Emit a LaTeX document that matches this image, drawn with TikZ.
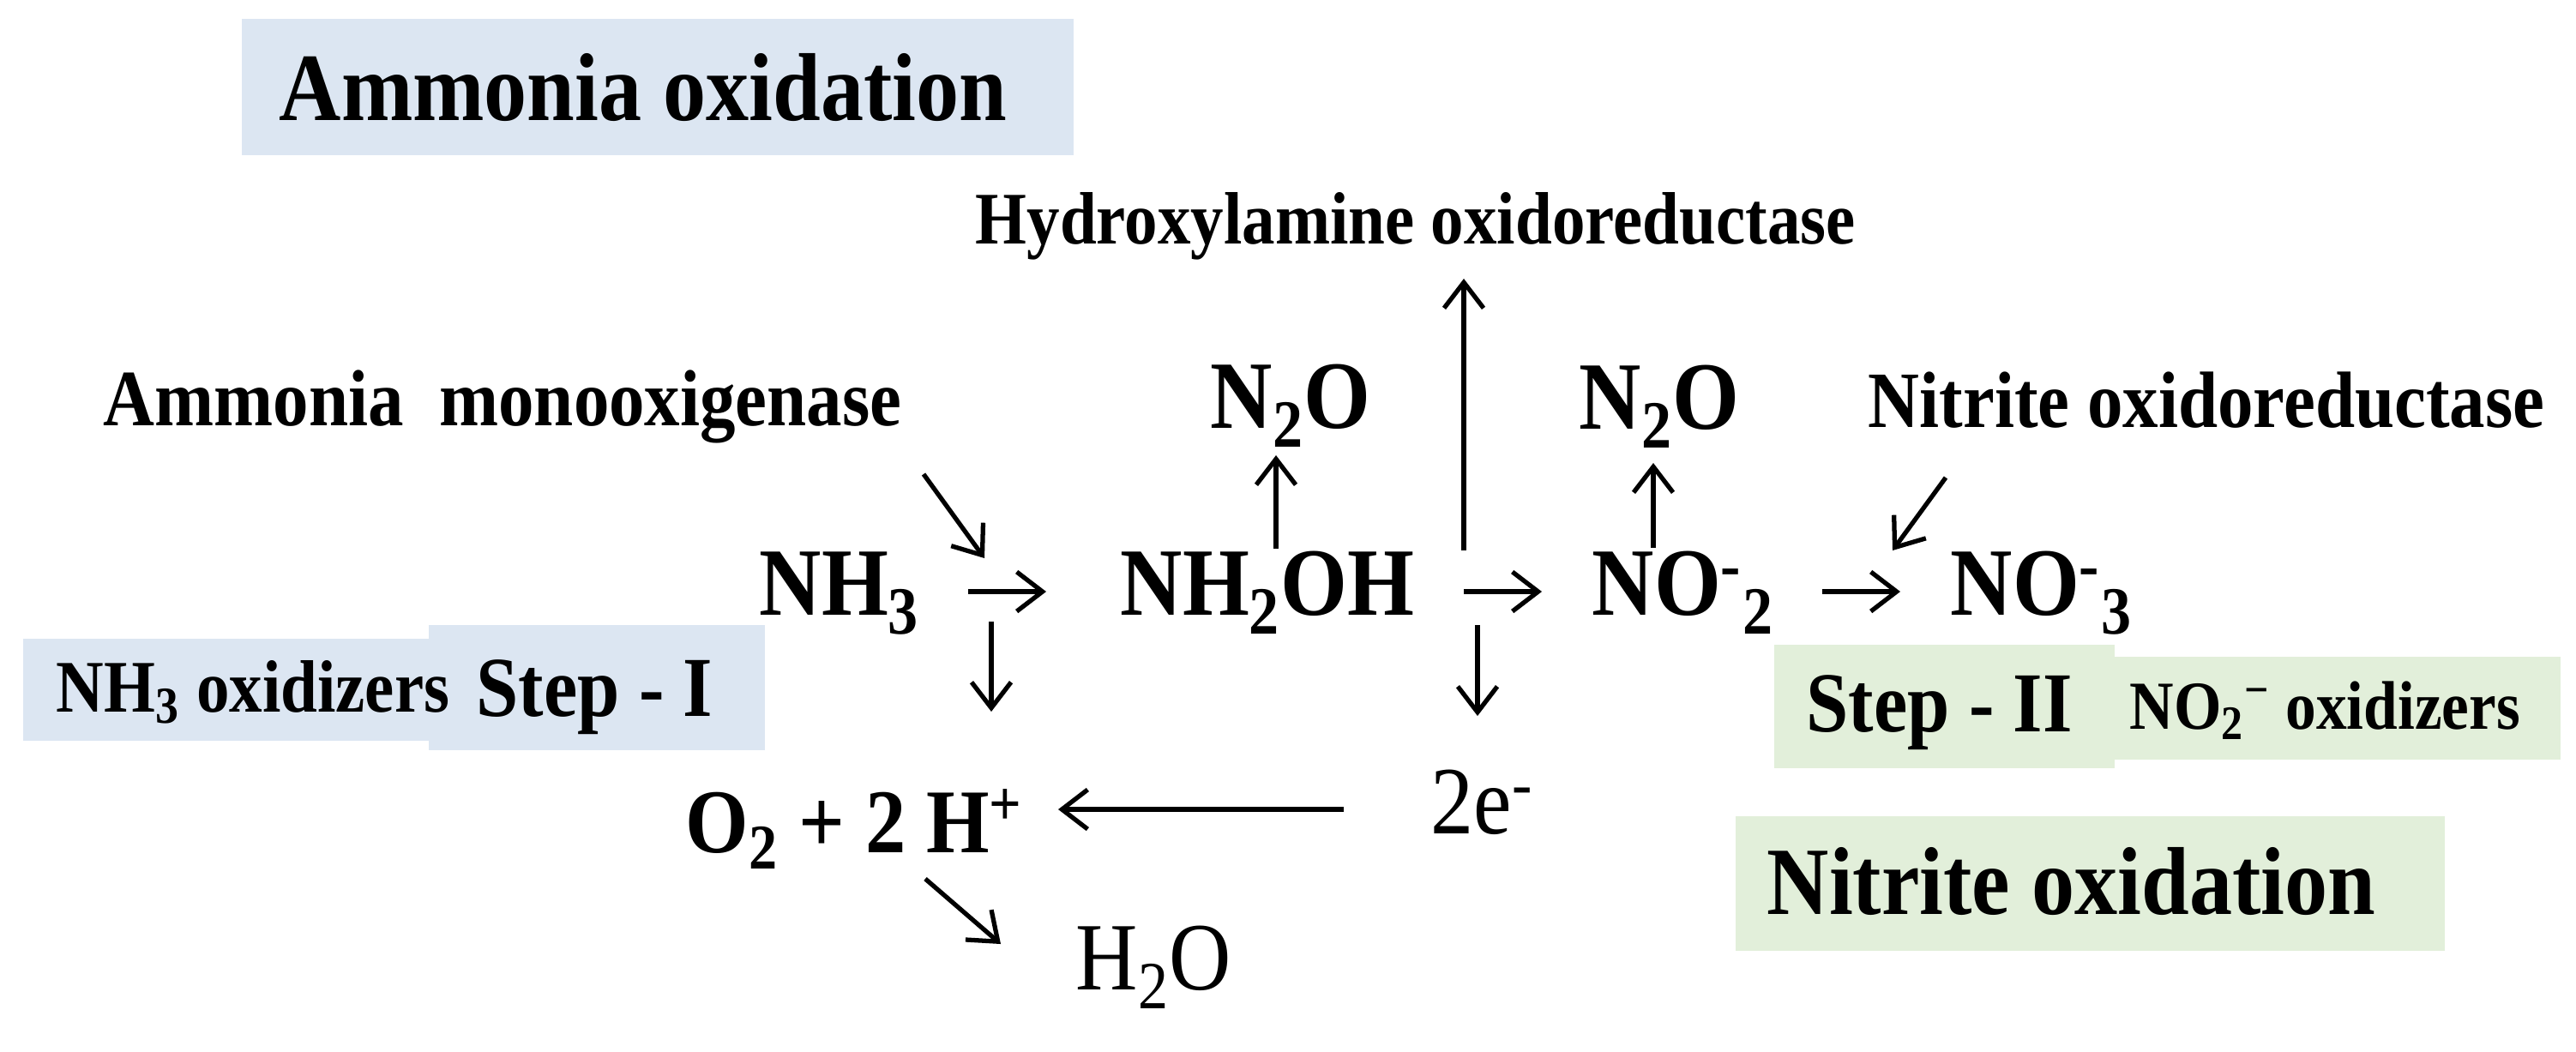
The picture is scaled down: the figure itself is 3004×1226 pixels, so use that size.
\documentclass[tikz,border=0pt]{standalone}
\usepackage{fontspec}
\setmainfont{Liberation Serif}[FakeStretch=0.89]
\usetikzlibrary{arrows.meta}
\definecolor{bluebox}{RGB}{220,230,242}
\definecolor{greenbox}{RGB}{226,239,218}
\begin{document}
\begin{tikzpicture}[x=0.01cm,y=-0.01cm,
  t/.style={inner sep=0pt,anchor=base west,font=\bfseries},
  arr/.style={line width=1.5pt,-{Straight Barb[length=0.3cm,width=0.46cm,line width=1.5pt]}}]
\useasboundingbox (0,0) rectangle (3004,1226);
% boxes
\fill[bluebox] (282,22) rectangle (1252,181);
\fill[bluebox] (27,745) rectangle (502,864);
\fill[bluebox] (500,729) rectangle (892,875);
\fill[greenbox] (2069,752) rectangle (2466,896);
\fill[greenbox] (2466,766) rectangle (2986,886);
\fill[greenbox] (2024,952) rectangle (2851,1109);
% texts
\node[t,font=\bfseries\fontsize{32}{36}\selectfont] (ao) at (325,140) {Ammonia oxidation};
\node[t,font=\bfseries\fontsize{24.6}{29}\selectfont] (hao) at (1137,284) {Hydroxylamine oxidoreductase};
\node[t,font=\bfseries\fontsize{26.5}{31}\selectfont] (amo) at (120,496) {Ammonia\ \ monooxigenase};
\node[t,font=\bfseries\fontsize{32}{36}\selectfont] (n2oa) at (1411,499) {N\textsubscript{2}O};
\node[t,font=\bfseries\fontsize{32}{36}\selectfont] (n2ob) at (1841,500) {N\textsubscript{2}O};
\node[t,font=\bfseries\fontsize{26.5}{31}\selectfont] (nor) at (2178,498) {Nitrite oxidoreductase};
\node[t,font=\bfseries\fontsize{32}{36}\selectfont] (nh3) at (885,717) {NH\textsubscript{3}};
\node[t,font=\bfseries\fontsize{32}{36}\selectfont] (nh2oh) at (1306,717) {NH\textsubscript{2}OH};
\node[t,font=\bfseries\fontsize{32}{36}\selectfont] (no2) at (1856,717) {NO\textsuperscript{-}\textsubscript{2}};
\node[t,font=\bfseries\fontsize{32}{36}\selectfont] (no3) at (2274,717) {NO\textsuperscript{-}\textsubscript{3}};
\node[t,font=\bfseries\fontsize{24.6}{29}\selectfont] (nh3ox) at (65,830) {NH\textsubscript{3} oxidizers};
\node[t,font=\bfseries\fontsize{28.3}{33}\selectfont] (s1) at (555,835) {Step - I};
\node[t,font=\bfseries\fontsize{28.3}{33}\selectfont] (s2) at (2106,853) {Step - II};
\node[t,font=\bfseries\fontsize{22.8}{27}\selectfont] (no2ox) at (2483,850) {NO\textsubscript{2}\textsuperscript{\textminus} oxidizers};
\node[t,font=\bfseries\fontsize{30.2}{35}\selectfont] (o2) at (799,994) {O\textsubscript{2} + 2 H\textsuperscript{+}};
\node[t,font=\fontsize{32}{36}\selectfont] (e) at (1668,972) {2e\textsuperscript{-}};
\node[t,font=\fontsize{32}{36}\selectfont] (h2o) at (1254,1154) {H\textsubscript{2}O};
\node[t,font=\bfseries\fontsize{32}{36}\selectfont] (nox) at (2060,1066) {Nitrite oxidation};
% coordinates
\coordinate (a1s) at (1077,553); \coordinate (a1e) at (1148,651);
\coordinate (h1s) at (1129,690); \coordinate (h1e) at (1220,690);
\coordinate (h2s) at (1707,690); \coordinate (h2e) at (1798,690);
\coordinate (h3s) at (2125,690); \coordinate (h3e) at (2216,690);
\coordinate (u1s) at (1488,640); \coordinate (u1e) at (1488,531);
\coordinate (u2s) at (1707,642); \coordinate (u2e) at (1707,325);
\coordinate (u3s) at (1928,639); \coordinate (u3e) at (1928,540);
\coordinate (a2s) at (2269,557); \coordinate (a2e) at (2207,642);
\coordinate (d1s) at (1156,725); \coordinate (d1e) at (1156,830);
\coordinate (d2s) at (1723,729); \coordinate (d2e) at (1723,835);
\coordinate (ls) at (1567,944); \coordinate (le) at (1234,944);
\coordinate (a3s) at (1079,1025); \coordinate (a3e) at (1167,1101);
\foreach \s/\e in {a1s/a1e,h1s/h1e,h2s/h2e,h3s/h3e,u1s/u1e,u2s/u2e,u3s/u3e,a2s/a2e,d1s/d1e,d2s/d2e,ls/le,a3s/a3e}
  \draw[arr] (\s) -- (\e);
\end{tikzpicture}
\end{document}
